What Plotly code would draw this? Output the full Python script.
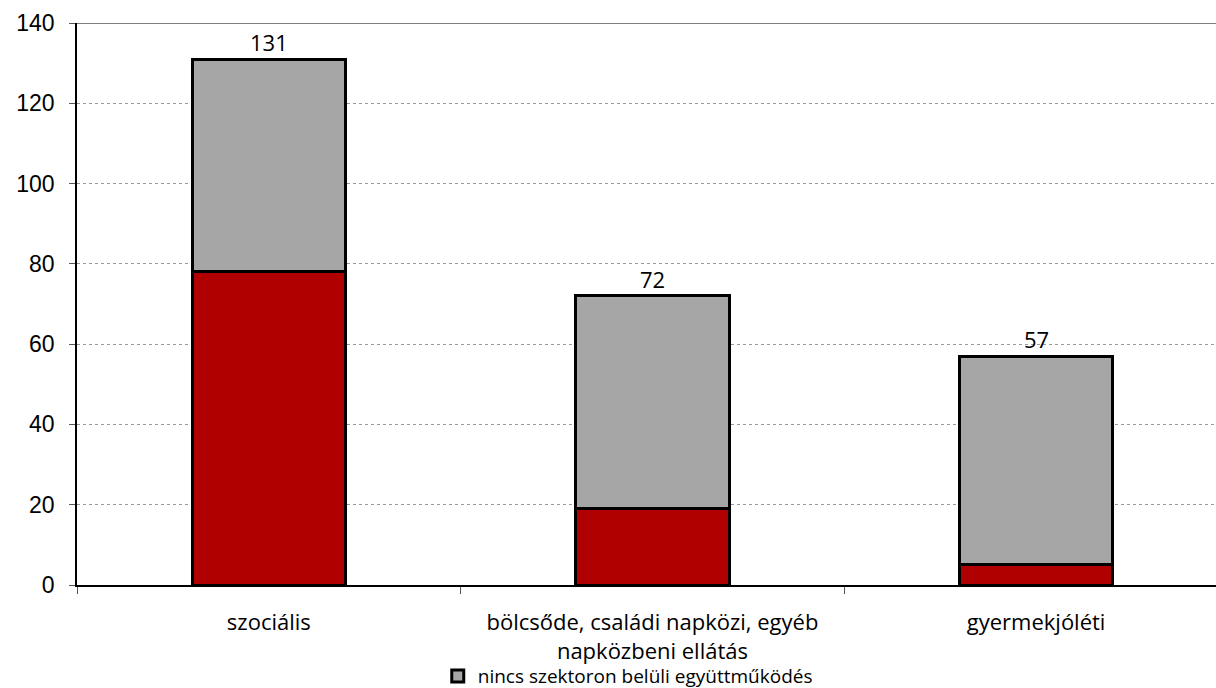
import plotly.graph_objects as go

categories = [
    "szociális",
    "bölcsőde, családi napközi, egyéb<br>napközbeni ellátás",
    "gyermekjóléti",
]
with_coop = [78, 19, 5]
without_coop = [53, 53, 52]
totals = [a + b for a, b in zip(with_coop, without_coop)]

series_with = "szektoron belüli együttműködés"
series_without = "nincs szektoron belüli együttműködés"

label_family = "Open Sans, Noto Sans, sans-serif"
tick_font = dict(family="Liberation Sans, Arial, sans-serif", size=23, color="#000000")

fig = go.Figure()
fig.add_trace(go.Bar(
    x=categories, y=with_coop, name=series_with,
    marker=dict(color="#B00000", line=dict(color="#000000", width=3)),
    width=0.4, showlegend=False,
))
fig.add_trace(go.Bar(
    x=categories, y=without_coop, name=series_without,
    marker=dict(color="#A6A6A6", line=dict(color="#000000", width=3)),
    width=0.4,
))

for cat, tot in zip(categories, totals):
    fig.add_annotation(
        x=cat, y=tot, text=str(tot), showarrow=False,
        yanchor="bottom", yshift=0,
        font=dict(family=label_family, size=22, color="#000000"),
    )

# solid top border line at the axis maximum
fig.add_shape(type="line", xref="paper", x0=0, x1=1, yref="y", y0=140, y1=140,
              line=dict(color="#808080", width=2), layer="below")

fig.update_layout(
    barmode="stack",
    width=1216, height=688,
    margin=dict(l=77, r=0, t=23, b=103, autoexpand=False),
    paper_bgcolor="#FFFFFF",
    plot_bgcolor="#FFFFFF",
    showlegend=True,
    legend=dict(
        orientation="h", xref="container", x=0.36, xanchor="left",
        yref="container", y=0.0174, yanchor="middle",
        font=dict(family=label_family, size=19, color="#000000"),
        itemwidth=30, bgcolor="rgba(0,0,0,0)",
    ),
    xaxis=dict(
        type="category", range=[-0.5, 2.469],
        showline=True, linecolor="#000000", linewidth=1.5,
        ticks="outside", tickson="boundaries", ticklen=7, tickcolor="#555555",
        ticklabelstandoff=17,
        tickfont=dict(family=label_family, size=22, color="#000000"),
        showgrid=False,
    ),
    yaxis=dict(
        range=[0, 140], tickvals=[0, 20, 40, 60, 80, 100, 120, 140],
        showline=True, linecolor="#000000", linewidth=1.5,
        ticks="outside", ticklen=6, tickcolor="#555555",
        ticklabelstandoff=10,
        tickfont=tick_font,
        showgrid=True, gridcolor="#999999", griddash="dot", gridwidth=1,
        zeroline=False,
    ),
)

fig.write_html("out.html")
